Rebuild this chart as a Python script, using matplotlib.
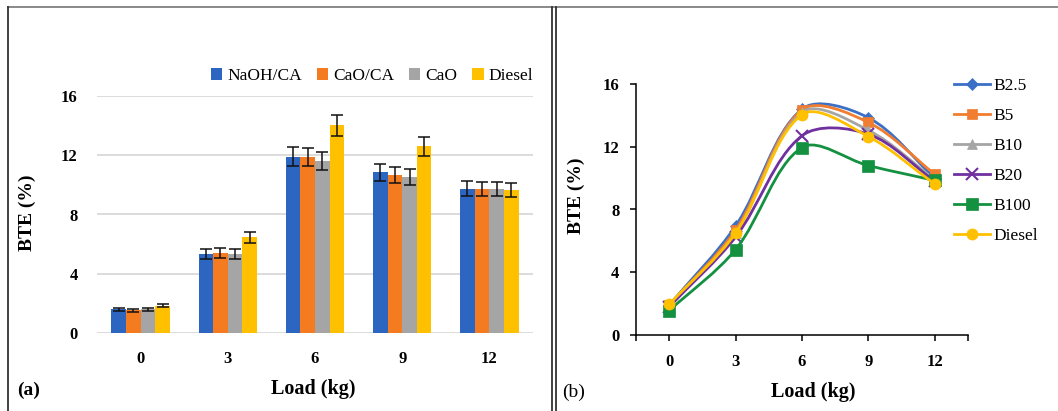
import numpy as np
import matplotlib
matplotlib.use('Agg')
import matplotlib.pyplot as plt
from matplotlib.path import Path
from matplotlib.patches import PathPatch
from matplotlib.lines import Line2D

plt.rcParams['font.family'] = ['Liberation Serif', 'DejaVu Serif']

# data
loads = [0, 3, 6, 9, 12]
bar_names = ['NaOH/CA', 'CaO/CA', 'CaO', 'Diesel']
bar_vals = {
    'NaOH/CA': [1.6, 5.33, 11.9, 10.85, 9.75],
    'CaO/CA': [1.55, 5.4, 11.9, 10.68, 9.7],
    'CaO': [1.6, 5.33, 11.6, 10.52, 9.7],
    'Diesel': [1.85, 6.45, 14.02, 12.6, 9.68],
}
bar_err = {
    'NaOH/CA': [0.1, 0.34, 0.63, 0.56, 0.48],
    'CaO/CA': [0.1, 0.34, 0.62, 0.53, 0.48],
    'CaO': [0.1, 0.34, 0.62, 0.55, 0.48],
    'Diesel': [0.1, 0.36, 0.7, 0.62, 0.48],
}
bar_colors = ['#2C66C0', '#F47B20', '#A5A5A5', '#FFC000']

line_names = ['B2.5', 'B5', 'B10', 'B20', 'B100', 'Diesel']
line_vals = {
    'B2.5': [1.9, 6.95, 14.4, 13.85, 10.0],
    'B5': [1.9, 6.7, 14.35, 13.55, 10.25],
    'B10': [1.9, 6.5, 14.2, 13.05, 9.9],
    'B20': [1.8, 6.25, 12.7, 12.8, 9.8],
    'B100': [1.55, 5.45, 11.95, 10.8, 9.85],
    'Diesel': [1.95, 6.5, 14.05, 12.65, 9.62],
}
line_colors = ['#3A70C6', '#F07D30', '#A5A5A5', '#7030A0', '#149140', '#FFC000']
line_markers = ['D', 's', '^', 'x', 's', 'o']
marker_sizes = [6, 7.5, 7, 8.5, 8.5, 8]

W, H = 1058, 411
fig = plt.figure(figsize=(W / 100, H / 100), dpi=100)

def fx(px):
    return px / W

def fy(py):
    return 1 - py / H

# ---- panel (a) ----
ax1 = fig.add_axes([fx(97), fy(333), fx(533) - fx(97), fy(96) - fy(333)])
x = np.arange(len(loads))
bw = 0.168
for i, name in enumerate(bar_names):
    ax1.bar(x + (i - 1.5) * bw, bar_vals[name], bw, color=bar_colors[i],
            yerr=bar_err[name], error_kw=dict(ecolor='#111111', elinewidth=1.1,
                                              capsize=4, capthick=1.1),
            label=name, zorder=3)
ax1.set_xlim(-0.5, len(loads) - 0.5)
ax1.set_ylim(0, 16)
ax1.set_yticks([0, 4, 8, 12, 16])
ax1.set_xticks(x)
ax1.set_xticklabels([str(v) for v in loads])
ax1.grid(axis='y', color='#D9D9D9', lw=1.3, zorder=0)
ax1.set_axisbelow(True)
for s in ax1.spines.values():
    s.set_visible(False)
ax1.tick_params(length=0, labelsize=12)
ax1.tick_params(axis='y', pad=14)
ax1.tick_params(axis='x', pad=13)
for lab in ax1.get_xticklabels() + ax1.get_yticklabels():
    lab.set_fontweight('bold')
ax1.legend(loc='center left', bbox_to_anchor=(fx(204), fy(76)),
           bbox_transform=fig.transFigure, ncol=4, frameon=False,
           fontsize=12.5, handlelength=0.65, handleheight=0.65,
           handletextpad=0.3, columnspacing=0.85, borderaxespad=0)

fig.text(fx(27), fy(213), 'BTE (%)', rotation=90, ha='center', va='center',
         fontsize=14, fontweight='bold')
fig.text(fx(313), fy(389), 'Load (kg)', ha='center', va='center',
         fontsize=14.5, fontweight='bold')
fig.text(fx(17), fy(390), '(a)', ha='left', va='center', fontsize=14,
         fontweight='bold')

# ---- panel (b) ----
ax2 = fig.add_axes([fx(636), fy(335), fx(968) - fx(636), fy(84) - fy(335)])
ax2.set_xlim(-1.5, 13.5)
ax2.set_ylim(0, 16)
ax2.set_xticks(loads)
ax2.set_yticks([0, 4, 8, 12, 16])
ax2.set_xticks([-1.5, 13.5], minor=True)
ax2.spines['top'].set_visible(False)
ax2.spines['right'].set_visible(False)
for s in ['left', 'bottom']:
    ax2.spines[s].set_linewidth(1.1)
ax2.tick_params(which='both', direction='out', length=4, width=1.1,
                labelsize=12)
ax2.tick_params(axis='y', pad=8)
ax2.tick_params(axis='x', pad=10)
for lab in ax2.get_xticklabels() + ax2.get_yticklabels():
    lab.set_fontweight('bold')


def smooth_path(ax, xs, ys):
    # Excel-like smoothed line: cubic Bezier segments, tangents from neighbours
    pts = ax.transData.transform(np.column_stack([xs, ys]))
    n = len(pts)
    verts = [pts[0]]
    codes = [Path.MOVETO]
    for i in range(n - 1):
        p0 = pts[max(i - 1, 0)]
        p1 = pts[i]
        p2 = pts[i + 1]
        p3 = pts[min(i + 2, n - 1)]
        d01 = np.hypot(*(p1 - p0))
        d12 = np.hypot(*(p2 - p1))
        d23 = np.hypot(*(p3 - p2))
        c1 = p1 + (p2 - p0) * (d12 / (d01 + d12)) / 3.0
        c2 = p2 - (p3 - p1) * (d12 / (d12 + d23)) / 3.0
        verts += [c1, c2, p2]
        codes += [Path.CURVE4] * 3
    verts = ax.transData.inverted().transform(np.array(verts))
    return Path(verts, codes)


handles = []
for i, name in enumerate(line_names):
    z = 3 + i
    patch = PathPatch(smooth_path(ax2, loads, line_vals[name]), fill=False,
                      edgecolor=line_colors[i], lw=2.0, zorder=z,
                      capstyle='round', joinstyle='round')
    ax2.add_patch(patch)
    mew = 1.5 if line_markers[i] == 'x' else 0.5
    ax2.plot(loads, line_vals[name], ls='none', marker=line_markers[i],
             ms=marker_sizes[i], color=line_colors[i], mew=mew, zorder=z,
             clip_on=False)
    handles.append(Line2D([], [], color=line_colors[i], lw=2.0,
                          marker=line_markers[i], ms=marker_sizes[i], mew=mew,
                          label=name))

ax2.legend(handles=handles, loc='upper left', bbox_to_anchor=(fx(954), fy(78)),
           bbox_transform=fig.transFigure, frameon=False, fontsize=12.5,
           handlelength=2.1, handletextpad=0.15, labelspacing=0.8,
           borderaxespad=0, borderpad=0)

fig.text(fx(576), fy(196), 'BTE (%)', rotation=90, ha='center', va='center',
         fontsize=14, fontweight='bold')
fig.text(fx(813), fy(392), 'Load (kg)', ha='center', va='center',
         fontsize=14.5, fontweight='bold')
fig.text(fx(562), fy(392), '(b)', ha='left', va='center', fontsize=14)

# ---- panel frames ----
frame_kw = dict(transform=fig.transFigure, lw=1.3)
fig.add_artist(Line2D([fx(8), 1], [fy(7.5), fy(7.5)], color='#808080', **frame_kw))
fig.add_artist(Line2D([fx(8), fx(8)], [fy(7.5), 0], color='#333333', **frame_kw))
fig.add_artist(Line2D([fx(552), fx(552)], [fy(7.5), 0], color='#333333', **frame_kw))
fig.add_artist(Line2D([fx(555.5), fx(555.5)], [fy(7.5), 0], color='#333333', **frame_kw))

fig.savefig('out.png', dpi=100)
